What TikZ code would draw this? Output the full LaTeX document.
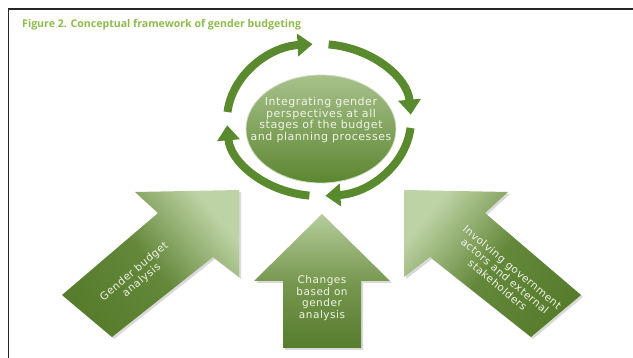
\documentclass[tikz,border=0pt]{standalone}
\usepackage{fontspec}
\setmainfont{Open Sans}
\newfontfamily\arrowfont[LetterSpace=5]{DejaVu Sans}
\usetikzlibrary{arrows.meta,shadows}

\definecolor{ringgreen}{RGB}{90,138,46}
\definecolor{darkgreen}{RGB}{86,124,44}
\definecolor{midgreen}{RGB}{100,136,58}
\definecolor{lightgreen}{RGB}{190,211,165}
\definecolor{titlegreen}{RGB}{141,187,76}
\definecolor{textwhite}{RGB}{240,244,232}

\begin{document}
\begin{tikzpicture}[x=1pt,y=1pt,
  ring/.style={line width=8pt, draw=ringgreen, -{Triangle[width=22pt,length=15pt]}},
  bigarrow/.style={drop shadow={opacity=0.3,shadow xshift=2pt,shadow yshift=-2pt},
    bottom color=darkgreen, top color=lightgreen, middle color=midgreen},
  words/.style={text=textwhite, font=\arrowfont\fontsize{10.5}{11.5}\selectfont, align=center}]
\useasboundingbox (0,0) rectangle (633,-358);
\draw[line width=1.5pt, black!85] (8.5,-358) -- (8.5,-9) -- (633,-9);
\node[anchor=base west, inner sep=0, text=titlegreen, font=\bfseries\fontsize{10.6}{12}\selectfont] (title) at (22,-28) {Figure 2. Conceptual framework of gender budgeting};

\coordinate (ringc) at (319,-120);
\foreach \s in {174,84,-6,-96}
  \draw[ring] ([shift={(\s:92 and 76)}]ringc) arc[start angle=\s, delta angle=-80, x radius=92, y radius=76];

\shade[top color={rgb,255:red,168;green,193;blue,140}, bottom color={rgb,255:red,92;green,134;blue,48}, draw={rgb,255:red,205;green,218;blue,190}, line width=0.8pt] (321,-129) ellipse[x radius=75, y radius=54];
\node[words, font=\arrowfont\fontsize{11}{11.5}\selectfont] (core) at (321,-120) {Integrating gender\\perspectives at all\\stages of the budget\\and planning processes};

\shade[bigarrow, shading angle=-50] (239,-190) -- (135,-192) -- (158,-213) -- (62,-295) -- (112,-337) -- (213,-257) -- (239,-277) -- cycle;
\node[words, rotate=40] (budget) at (138,-276) {Gender budget\\analysis};

\shade[bigarrow, top color={rgb,255:red,182;green,205;blue,155}, middle color={rgb,255:red,120;green,152;blue,80}] (322,-214) -- (390,-281) -- (361,-281) -- (361,-348) -- (283,-348) -- (283,-281) -- (254,-281) -- cycle;
\node[words] (changes) at (322,-298) {Changes\\based on\\gender\\analysis};

\shade[bigarrow, shading angle=50] (404,-190) -- (508,-192) -- (485,-213) -- (581,-295) -- (531,-337) -- (430,-257) -- (404,-277) -- cycle;
\node[words, rotate=-40] (actors) at (505,-276) {Involving government\\actors and external\\stakeholders};
\end{tikzpicture}
\end{document}
